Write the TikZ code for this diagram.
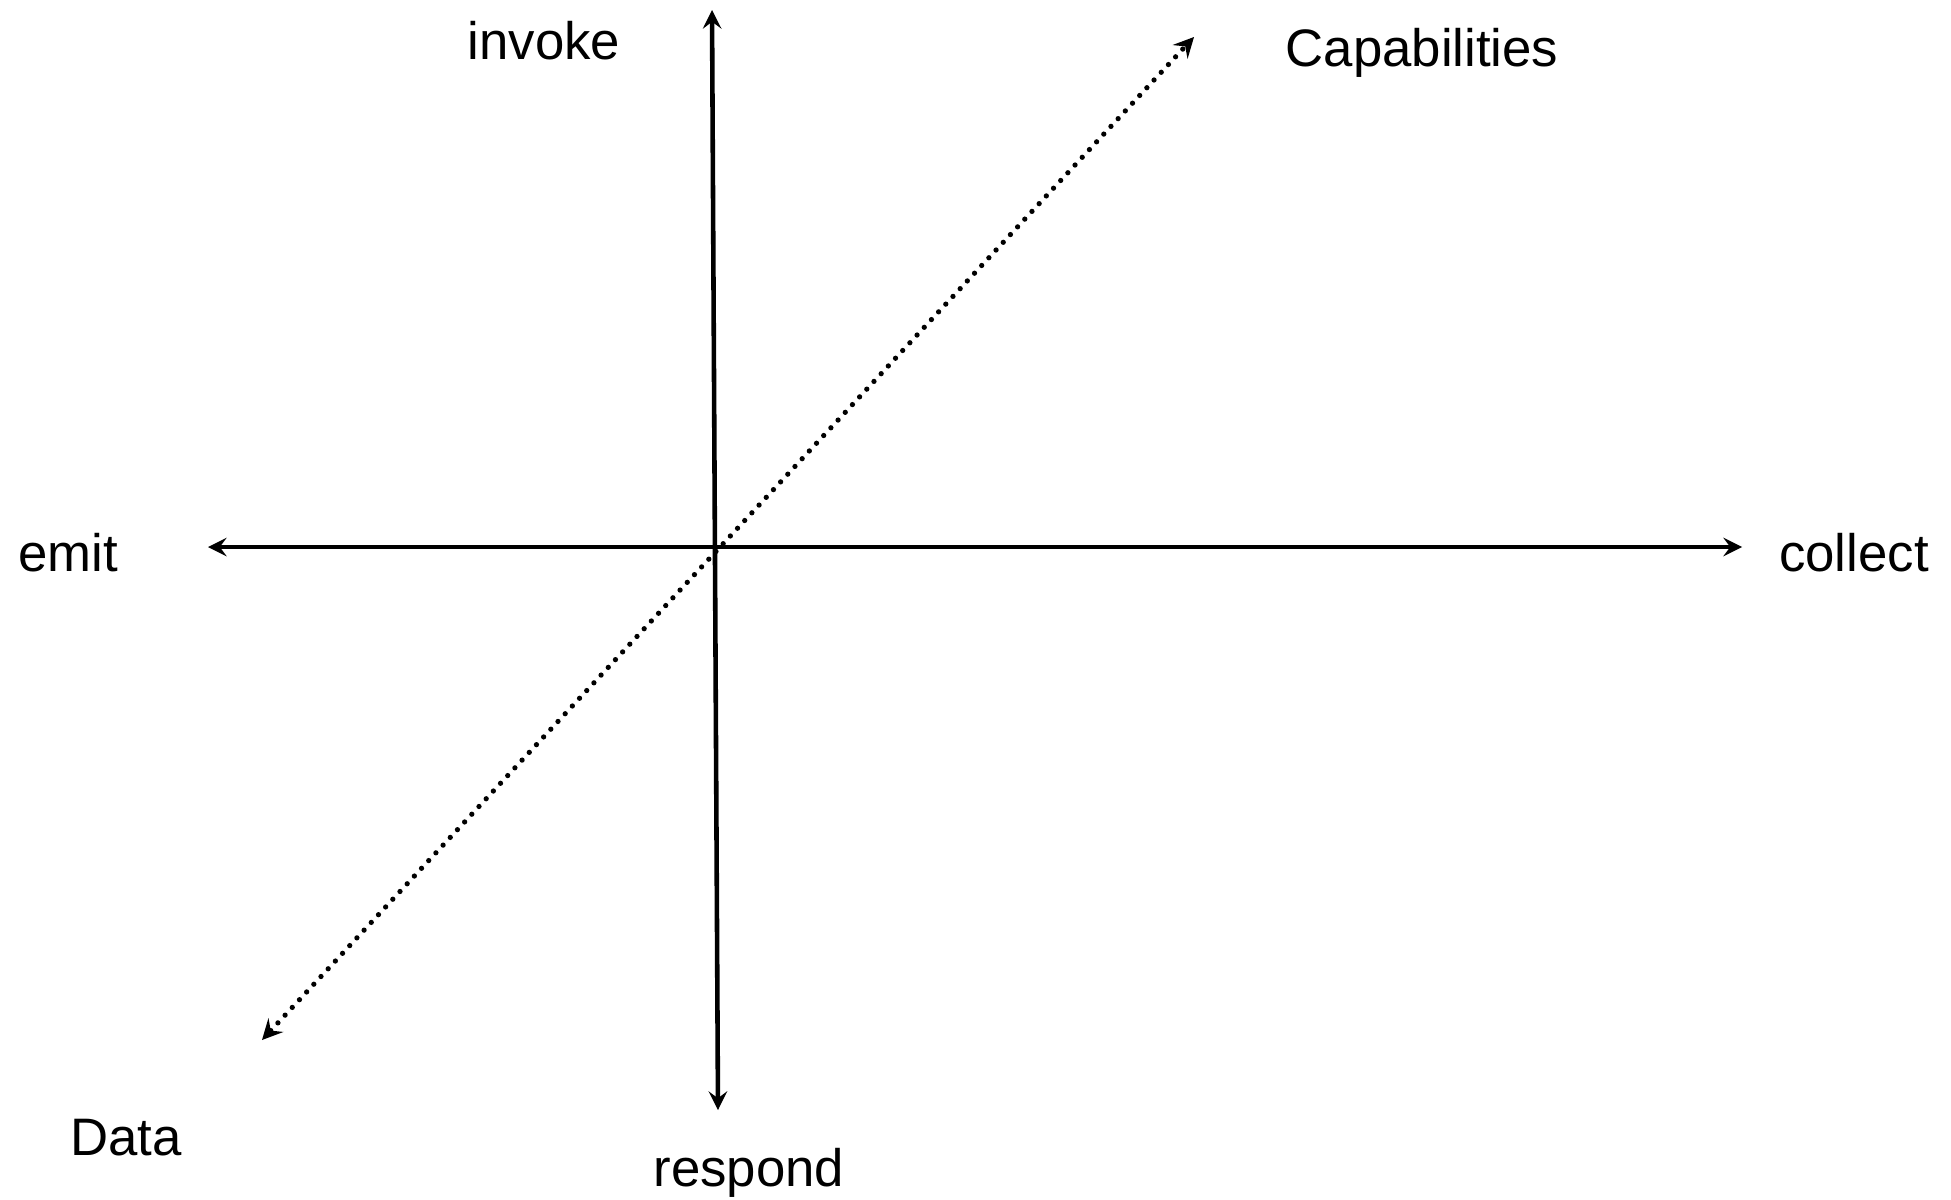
\documentclass[tikz,border=0pt]{standalone}
\usepackage{fontspec}
\setmainfont{Liberation Sans}

\begin{document}
\begin{tikzpicture}[x=0.01cm, y=-0.01cm, >=stealth, line width=1.3pt,
  label/.style={font=\fontsize{15}{18}\selectfont, anchor=base, inner sep=0pt}]
  \useasboundingbox (0,0) rectangle (1951,1200);

  \coordinate (Top) at (712,10);
  \coordinate (Bottom) at (718,1110);
  \coordinate (Left) at (208,547);
  \coordinate (Right) at (1742,547);
  \coordinate (Far) at (1194,37);
  \coordinate (Near) at (262,1040);

  \draw[<->] (Bottom) -- (Top);
  \draw[<->] (Left) -- (Right);
  \draw[<->, line width=1.5pt, line cap=round, dash pattern=on 0pt off 3pt] (Near) -- (Far);

  \node[label] (invoke) at (544,60) {invoke};
  \node[label] (capabilities) at (1422,66) {Capabilities};
  \node[label] (emit) at (68,571) {emit};
  \node[label] (collect) at (1854,571) {collect};
  \node[label] (data) at (126,1155) {Data};
  \node[label] (respond) at (749,1186) {respond};
\end{tikzpicture}
\end{document}
